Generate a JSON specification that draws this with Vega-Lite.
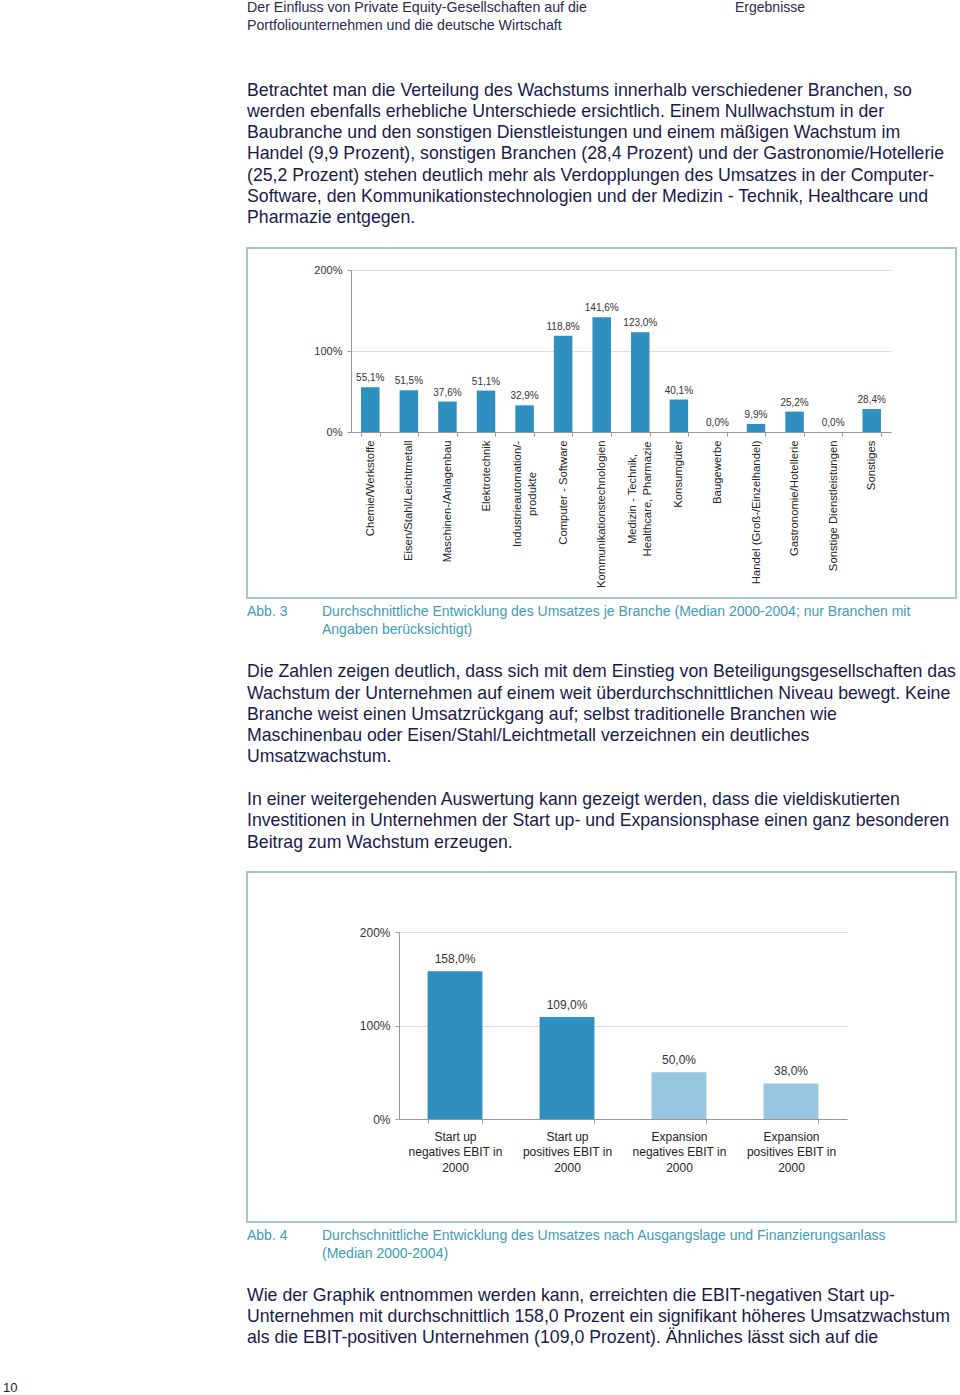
{
  "$schema": "https://vega.github.io/schema/vega-lite/v6.json",
  "background": "white",
  "padding": {"left": 3, "top": 0, "right": 0, "bottom": 0},
  "spacing": 30,
  "config": {
    "view": {"stroke": null},
    "font": "Liberation Sans",
    "locale": {"number": {"decimal": ",", "thousands": ".", "grouping": [3], "currency": ["", " €"]}},
    "title": {"anchor": "start", "frame": "group", "fontWeight": "normal", "font": "Liberation Sans", "color": "#1a1a4a", "offset": 0}
  },
  "vconcat": [
    {
      "spacing": 0,
      "hconcat": [
        {
          "data": {"values": []},
          "mark": "point",
          "width": 237,
          "height": 1
        },
        {
          "spacing": 6,
          "vconcat": [
            {
              "spacing": 0,
              "hconcat": [
                {
                  "data": {"values": []},
                  "mark": "point",
                  "width": 488,
                  "height": 37,
                  "title": {"text": ["Der Einfluss von Private Equity-Gesellschaften auf die", "Portfoliounternehmen und die deutsche Wirtschaft"], "fontSize": 14.2, "lineHeight": 18, "color": "#2a2a4a"}
                },
                {
                  "data": {"values": []},
                  "mark": "point",
                  "width": 221,
                  "height": 37,
                  "title": {"text": ["Ergebnisse", "\u00a0"], "fontSize": 14, "lineHeight": 18, "color": "#2a2a4a"}
                }
              ]
            },
            {
              "width": 709,
              "height": 350,
              "view": {"stroke": "#a3c9c9", "strokeWidth": 2},
              "title": {
                "text": [
                  "Betrachtet man die Verteilung des Wachstums innerhalb verschiedener Branchen, so",
                  "werden ebenfalls erhebliche Unterschiede ersichtlich. Einem Nullwachstum in der",
                  "Baubranche und den sonstigen Dienstleistungen und einem mäßigen Wachstum im",
                  "Handel (9,9 Prozent), sonstigen Branchen (28,4 Prozent) und der Gastronomie/Hotellerie",
                  "(25,2 Prozent) stehen deutlich mehr als Verdopplungen des Umsatzes in der Computer-",
                  "Software, den Kommunikationstechnologien und der Medizin - Technik, Healthcare und",
                  "Pharmazie entgegen."
                ],
                "fontSize": 17.7,
                "lineHeight": 21.3,
                "offset": 21
              },
              "data": {
                "values": [
                  {"branche": "Chemie/Werkstoffe", "wachstum": 0.551},
                  {"branche": "Eisen/Stahl/Leichtmetall", "wachstum": 0.515},
                  {"branche": "Maschinen-/Anlagenbau", "wachstum": 0.376},
                  {"branche": "Elektrotechnik", "wachstum": 0.511},
                  {"branche": "Industrieautomation/-\nprodukte", "wachstum": 0.329},
                  {"branche": "Computer - Software", "wachstum": 1.188},
                  {"branche": "Kommunikationstechnologien", "wachstum": 1.416},
                  {"branche": "Medizin - Technik,\nHealthcare, Pharmazie", "wachstum": 1.23},
                  {"branche": "Konsumgüter", "wachstum": 0.401},
                  {"branche": "Baugewerbe", "wachstum": 0.0},
                  {"branche": "Handel (Groß-/Einzelhandel)", "wachstum": 0.099},
                  {"branche": "Gastronomie/Hotellerie", "wachstum": 0.252},
                  {"branche": "Sonstige Dienstleistungen", "wachstum": 0.0},
                  {"branche": "Sonstiges", "wachstum": 0.284}
                ]
              },
              "encoding": {
                "x": {
                  "field": "branche",
                  "type": "nominal",
                  "sort": null,
                  "scale": {"range": [104, 644], "paddingInner": 0.52, "paddingOuter": 0.26},
                  "axis": {
                    "title": null,
                    "orient": "bottom",
                    "offset": -166,
                    "labelAngle": 270,
                    "labelFontSize": 11.3,
                    "labelColor": "#222",
                    "labelExpr": "split(datum.label, '\\n')",
                    "labelLineHeight": 15,
                    "labelLimit": 400,
                    "labelOverlap": false,
                    "labelAlign": {"expr": "indexof(datum.label, '\\n') >= 0 ? 'center' : 'right'"},
                    "labelOffset": {"expr": "indexof(datum.label, '\\n') >= 0 ? -7.5 : 0"},
                    "labelPadding": {"expr": "indexof(datum.label, 'Industrie') == 0 ? 57.5 : indexof(datum.label, 'Medizin') == 0 ? 62.5 : 4"},
                    "tickBand": "extent",
                    "tickSize": 4,
                    "tickColor": "#999",
                    "domainColor": "#999",
                    "grid": false
                  }
                },
                "y": {
                  "field": "wachstum",
                  "type": "quantitative",
                  "scale": {"domain": [0, 2], "range": [184, 22], "nice": false},
                  "axis": {
                    "title": null,
                    "values": [0, 1, 2],
                    "format": ".0%",
                    "offset": -104,
                    "grid": true,
                    "gridColor": "#dddddd",
                    "domainColor": "#999",
                    "tickColor": "#999",
                    "tickSize": 4,
                    "labelFontSize": 11,
                    "labelColor": "#333",
                    "labelPadding": 5
                  }
                }
              },
              "layer": [
                {"mark": {"type": "bar", "color": "#2e8fc0"}},
                {
                  "mark": {"type": "text", "baseline": "bottom", "dy": -4, "fontSize": 10, "color": "#333"},
                  "encoding": {"text": {"field": "wachstum", "type": "quantitative", "format": ".1%"}}
                }
              ]
            },
            {
              "spacing": 0,
              "hconcat": [
                {
                  "data": {"values": []},
                  "mark": "point",
                  "width": 75,
                  "height": 15,
                  "title": {"text": ["Abb. 3", "\u00a0"], "fontSize": 14, "lineHeight": 18, "color": "#3e9cb4"}
                },
                {
                  "data": {"values": []},
                  "mark": "point",
                  "width": 634,
                  "height": 15,
                  "title": {"text": ["Durchschnittliche Entwicklung des Umsatzes je Branche (Median 2000-2004; nur Branchen mit", "Angaben berücksichtigt)"], "fontSize": 14, "lineHeight": 18, "color": "#3e9cb4"}
                }
              ]
            },
            {
              "width": 709,
              "height": 350,
              "view": {"stroke": "#a3c9c9", "strokeWidth": 2},
              "title": {
                "text": [
                  "Die Zahlen zeigen deutlich, dass sich mit dem Einstieg von Beteiligungsgesellschaften das",
                  "Wachstum der Unternehmen auf einem weit überdurchschnittlichen Niveau bewegt. Keine",
                  "Branche weist einen Umsatzrückgang auf; selbst traditionelle Branchen wie",
                  "Maschinenbau oder Eisen/Stahl/Leichtmetall verzeichnen ein deutliches",
                  "Umsatzwachstum."
                ],
                "subtitle": [
                  "In einer weitergehenden Auswertung kann gezeigt werden, dass die vieldiskutierten",
                  "Investitionen in Unternehmen der Start up- und Expansionsphase einen ganz besonderen",
                  "Beitrag zum Wachstum erzeugen."
                ],
                "fontSize": 17.7,
                "lineHeight": 21.3,
                "subtitleFontSize": 17.7,
                "subtitleLineHeight": 21.3,
                "subtitleColor": "#1a1a4a",
                "subtitleFont": "Liberation Sans",
                "subtitleFontWeight": "normal",
                "subtitlePadding": 24.9,
                "offset": 20.6
              },
              "data": {
                "values": [
                  {"gruppe": "Start up\nnegatives EBIT in\n2000", "phase": "Start up", "wachstum": 1.58},
                  {"gruppe": "Start up\npositives EBIT in\n2000", "phase": "Start up", "wachstum": 1.09},
                  {"gruppe": "Expansion\nnegatives EBIT in\n2000", "phase": "Expansion", "wachstum": 0.5},
                  {"gruppe": "Expansion\npositives EBIT in\n2000", "phase": "Expansion", "wachstum": 0.38}
                ]
              },
              "encoding": {
                "x": {
                  "field": "gruppe",
                  "type": "nominal",
                  "sort": null,
                  "scale": {"range": [152, 600], "paddingInner": 0.51, "paddingOuter": 0.255},
                  "axis": {
                    "title": null,
                    "orient": "bottom",
                    "offset": -103,
                    "labelAngle": 0,
                    "labelAlign": "center",
                    "labelBaseline": "top",
                    "labelFontSize": 12,
                    "labelColor": "#222",
                    "labelExpr": "split(datum.label, '\\n')",
                    "labelLineHeight": 15.5,
                    "labelLimit": 400,
                    "labelOverlap": false,
                    "labelPadding": 8,
                    "tickBand": "extent",
                    "tickSize": 4,
                    "tickColor": "#999",
                    "domainColor": "#999",
                    "grid": false
                  }
                },
                "y": {
                  "field": "wachstum",
                  "type": "quantitative",
                  "scale": {"domain": [0, 2], "range": [247, 60], "nice": false},
                  "axis": {
                    "title": null,
                    "values": [0, 1, 2],
                    "format": ".0%",
                    "offset": -152,
                    "grid": true,
                    "gridColor": "#dddddd",
                    "domainColor": "#999",
                    "tickColor": "#999",
                    "tickSize": 4,
                    "labelFontSize": 12,
                    "labelColor": "#333",
                    "labelPadding": 5
                  }
                }
              },
              "layer": [
                {
                  "mark": {"type": "bar"},
                  "encoding": {
                    "color": {"field": "phase", "type": "nominal", "scale": {"domain": ["Start up", "Expansion"], "range": ["#2e8fc0", "#96c6e0"]}, "legend": null}
                  }
                },
                {
                  "mark": {"type": "text", "baseline": "bottom", "dy": -5, "fontSize": 12, "color": "#333"},
                  "encoding": {"text": {"field": "wachstum", "type": "quantitative", "format": ".1%"}}
                }
              ]
            },
            {
              "spacing": 0,
              "hconcat": [
                {
                  "data": {"values": []},
                  "mark": "point",
                  "width": 75,
                  "height": 15,
                  "title": {"text": ["Abb. 4", "\u00a0"], "fontSize": 14, "lineHeight": 18, "color": "#3e9cb4"}
                },
                {
                  "data": {"values": []},
                  "mark": "point",
                  "width": 634,
                  "height": 15,
                  "title": {"text": ["Durchschnittliche Entwicklung des Umsatzes nach Ausgangslage und Finanzierungsanlass", "(Median 2000-2004)"], "fontSize": 14, "lineHeight": 18, "color": "#3e9cb4"}
                }
              ]
            },
            {
              "data": {"values": []},
              "mark": "point",
              "width": 709,
              "height": 1,
              "title": {
                "text": [
                  "Wie der Graphik entnommen werden kann, erreichten die EBIT-negativen Start up-",
                  "Unternehmen mit durchschnittlich 158,0 Prozent ein signifikant höheres Umsatzwachstum",
                  "als die EBIT-positiven Unternehmen (109,0 Prozent). Ähnliches lässt sich auf die"
                ],
                "fontSize": 17.7,
                "lineHeight": 21.3
              }
            }
          ]
        }
      ]
    },
    {
      "data": {"values": []},
      "mark": "point",
      "width": 20,
      "height": 1,
      "title": {"text": "10", "fontSize": 13, "color": "#1a1a4a"}
    }
  ]
}
